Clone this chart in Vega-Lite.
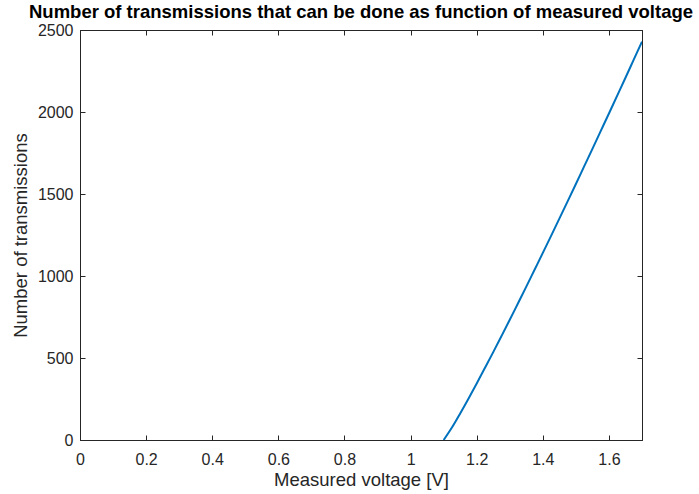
{
  "$schema": "https://vega.github.io/schema/vega-lite/v6.json",
  "width": 562,
  "height": 410,
  "autosize": "none",
  "padding": {"left": 80, "top": 30, "right": 57, "bottom": 54},
  "background": "white",
  "title": {
    "text": "Number of transmissions that can be done as function of measured voltage",
    "font": "Liberation Sans",
    "fontSize": 18.5,
    "fontWeight": "bold",
    "color": "black",
    "offset": 1,
    "anchor": "middle"
  },
  "config": {
    "view": {"stroke": "#262626", "strokeWidth": 1},
    "axis": {
      "labelFont": "Liberation Sans",
      "titleFont": "Liberation Sans",
      "labelFontSize": 16,
      "titleFontSize": 18.5,
      "titleFontWeight": "normal",
      "labelColor": "#262626",
      "titleColor": "#262626",
      "domainColor": "#262626",
      "tickColor": "#262626",
      "grid": false,
      "labelFlush": false,
      "tickSize": -5
    }
  },
  "data": {
    "values": [
      {"v": 1.1, "n": 0},
      {"v": 1.125, "n": 76},
      {"v": 1.15, "n": 162},
      {"v": 1.175, "n": 252},
      {"v": 1.2, "n": 345},
      {"v": 1.225, "n": 440},
      {"v": 1.25, "n": 536},
      {"v": 1.275, "n": 634},
      {"v": 1.3, "n": 733},
      {"v": 1.325, "n": 834},
      {"v": 1.35, "n": 935},
      {"v": 1.375, "n": 1038},
      {"v": 1.4, "n": 1141},
      {"v": 1.425, "n": 1245},
      {"v": 1.45, "n": 1350},
      {"v": 1.475, "n": 1455},
      {"v": 1.5, "n": 1561},
      {"v": 1.525, "n": 1668},
      {"v": 1.55, "n": 1775},
      {"v": 1.575, "n": 1883},
      {"v": 1.6, "n": 1991},
      {"v": 1.625, "n": 2100},
      {"v": 1.65, "n": 2209},
      {"v": 1.675, "n": 2319},
      {"v": 1.7, "n": 2429}
    ]
  },
  "layer": [
    {
      "mark": {"type": "line", "color": "#0072BD", "strokeWidth": 2, "interpolate": "monotone", "clip": true},
      "encoding": {
        "x": {
          "field": "v", "type": "quantitative",
          "scale": {"domain": [0, 1.7], "nice": false, "zero": false},
          "axis": {"values": [0, 0.2, 0.4, 0.6, 0.8, 1, 1.2, 1.4, 1.6], "format": "~g", "title": "Measured voltage [V]", "labelPadding": 16, "titlePadding": 3}
        },
        "y": {
          "field": "n", "type": "quantitative",
          "scale": {"domain": [0, 2500], "nice": false},
          "axis": {"values": [0, 500, 1000, 1500, 2000, 2500], "format": "d", "title": "Number of transmissions", "labelPadding": 12, "titlePadding": 7}
        }
      }
    },
    {
      "mark": {"type": "line", "opacity": 0},
      "encoding": {
        "x": {
          "field": "v", "type": "quantitative",
          "axis": {"orient": "top", "values": [0, 0.2, 0.4, 0.6, 0.8, 1, 1.2, 1.4, 1.6], "labels": false, "title": null}
        },
        "y": {
          "field": "n", "type": "quantitative",
          "axis": {"orient": "right", "values": [0, 500, 1000, 1500, 2000, 2500], "labels": false, "title": null}
        }
      }
    }
  ],
  "resolve": {"axis": {"x": "independent", "y": "independent"}}
}
